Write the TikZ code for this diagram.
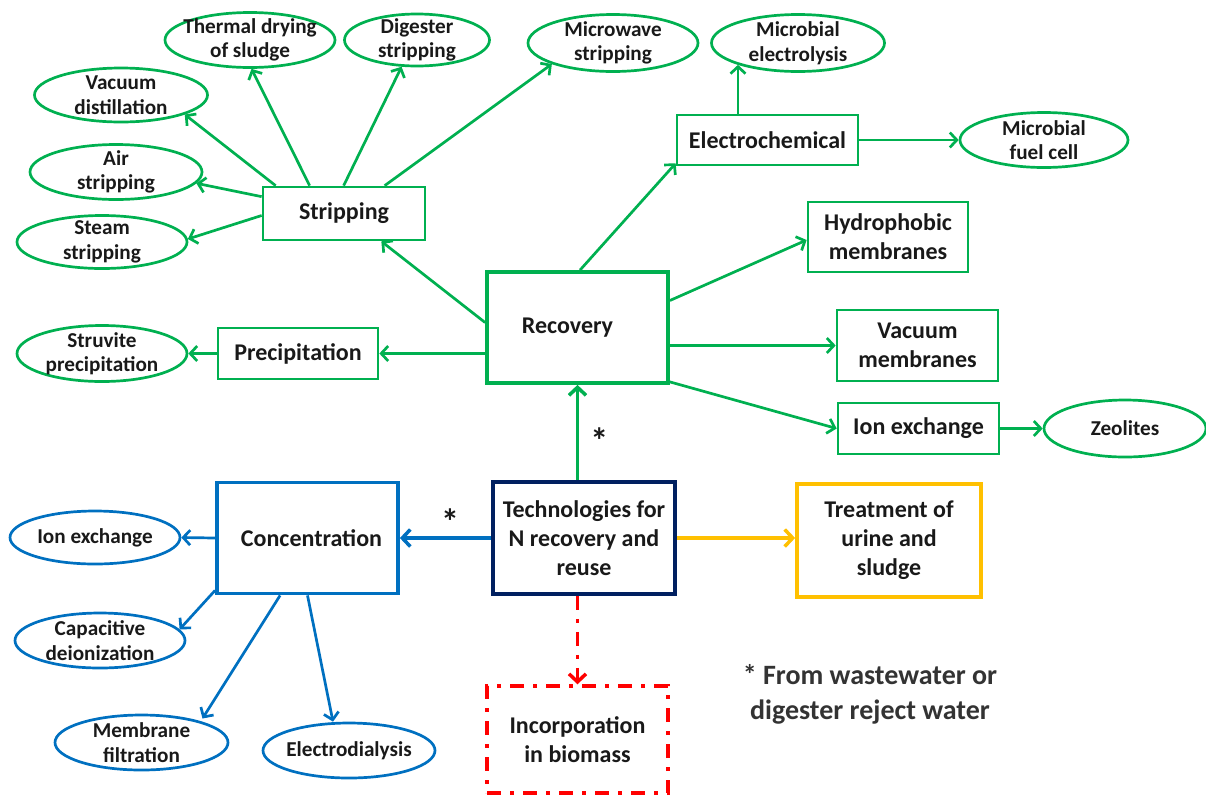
\documentclass[tikz,border=0pt]{standalone}
\usepackage{fontspec}
\setmainfont{Carlito}
\usetikzlibrary{arrows.meta,shapes.geometric}
\definecolor{cgreen}{RGB}{0,176,80}
\definecolor{cblue}{RGB}{0,112,192}
\definecolor{cnavy}{RGB}{0,32,96}
\definecolor{cyellow}{RGB}{255,192,0}
\definecolor{cred}{RGB}{255,0,0}
\definecolor{ctext}{RGB}{25,25,25}
\begin{document}
\begin{tikzpicture}[x=1pt,y=-1pt,
  every node/.style={align=center, inner sep=0pt},
  bx/.style={draw, rectangle, line width=2.7pt, text=ctext, font=\fontsize{24}{29}\selectfont\bfseries},
  thickbx/.style={bx, line width=3.8pt},
  el/.style={draw, ellipse, line width=2.7pt, inner sep=-16pt, text=ctext, font=\fontsize{21.2}{24.5}\selectfont\bfseries},
  arr/.style={-{Straight Barb[length=7pt,width=15pt]}, line width=2.7pt},
  thickarr/.style={-{Straight Barb[length=8pt,width=17pt]}, line width=3.5pt},
  gr/.style={draw=cgreen}, bl/.style={draw=cblue},
  star/.style={text=ctext, font=\fontsize{36}{36}\selectfont\bfseries}
]
\useasboundingbox (0,0) rectangle (1206,796);

% ---- green recovery group ----
\node[el,gr,minimum width=170pt,minimum height=55pt] (therm) at (250,40) {Thermal drying\\of sludge};
\node[el,gr,minimum width=145pt,minimum height=52pt] (dig) at (417,40) {Digester\\stripping};
\node[el,gr,minimum width=170pt,minimum height=57pt] (mw) at (613,43) {Microwave\\stripping};
\node[el,gr,minimum width=173pt,minimum height=57pt] (mel) at (798,43) {Microbial\\electrolysis};
\node[el,gr,minimum width=173pt,minimum height=54pt] (vac) at (121,95) {Vacuum\\distillation};
\node[el,gr,minimum width=172pt,minimum height=55pt] (air) at (116,172) {Air\\stripping};
\node[el,gr,minimum width=170pt,minimum height=53pt] (steam) at (102,242) {Steam\\stripping};
\node[bx,gr,minimum width=162pt,minimum height=53pt] (strip) at (344,213.5) {Stripping};
\node[bx,gr,minimum width=181pt,minimum height=50pt] (elec) at (767.5,140) {Electrochemical};
\node[el,gr,minimum width=168pt,minimum height=55pt] (mfc) at (1044,140) {Microbial\\fuel cell};
\node[bx,gr,minimum width=160pt,minimum height=70pt] (hyd) at (888,237) {Hydrophobic\\membranes};
\node[bx,gr,minimum width=161pt,minimum height=71pt] (vm) at (917.5,345.5) {Vacuum\\membranes};
\node[bx,gr,minimum width=161pt,minimum height=51pt] (ionx) at (918.5,428.5) {Ion exchange};
\node[el,gr,minimum width=162pt,minimum height=57pt] (zeo) at (1125,428.5) {Zeolites};
\node[thickbx,gr,minimum width=181pt,minimum height=111pt] (rec) at (577.5,327.5) {Recovery\hspace{20pt}};
\node[bx,gr,minimum width=160pt,minimum height=51pt] (prec) at (298,353.5) {Precipitation};
\node[el,gr,minimum width=170pt,minimum height=56pt] (struv) at (102,353.5) {Struvite\\precipitation};

% ---- centre and other groups ----
\node[thickbx,draw=cnavy,minimum width=182pt,minimum height=112pt] (tech) at (584,538) {Technologies for\\N recovery and\\reuse};
\node[thickbx,bl,minimum width=181pt,minimum height=111pt] (conc) at (307.5,538) {\hspace{8pt}Concentration};
\node[thickbx,draw=cyellow,minimum width=184pt,minimum height=113pt] (treat) at (889,540.5) {Treatment of\\urine and\\sludge};
\node[bx,draw=cred,line width=3.5pt,dash pattern=on 14pt off 9pt on 4pt off 9pt,minimum width=181pt,minimum height=107pt] (inc) at (577.5,739.5) {Incorporation\\in biomass};
\node[el,bl,minimum width=170pt,minimum height=53pt] (ionb) at (95,537.5) {Ion exchange};
\node[el,bl,minimum width=170pt,minimum height=55pt] (capac) at (100,640.5) {Capacitive\\deionization};
\node[el,bl,minimum width=173pt,minimum height=55pt] (memb) at (141.5,742.5) {Membrane\\filtration};
\node[el,bl,minimum width=172pt,minimum height=55pt] (edial) at (349,750.5) {Electrodialysis};
\node[font=\fontsize{28}{35}\selectfont\bfseries, text=black!80] (foot) at (870,694) {* From wastewater or\\digester reject water};

% ---- connectors: stripping ----
\draw[arr,cgreen] ([xshift=14pt]strip.north west) -- (vac.-17);
\draw[arr,cgreen] ([xshift=48pt]strip.north west) -- (therm.-87);
\draw[arr,cgreen] ([xshift=82pt]strip.north west) -- (dig.-120);
\draw[arr,cgreen] ([xshift=123pt]strip.north west) -- (mw.-161);
\draw[arr,cgreen] ([yshift=-11pt]strip.north west) -- (air.-8);
\draw[arr,cgreen] ([yshift=-2pt]strip.west) -- (steam.2);

% ---- connectors: recovery ----
\draw[arr,cgreen] ([yshift=5pt]rec.west) -- ([xshift=-45pt]strip.south east);
\draw[arr,cgreen] (prec.east -| rec.west) -- (prec.east);
\draw[arr,cgreen] (prec.west) -- (struv.east);
\draw[arr,cgreen] ([xshift=2.5pt]rec.north) -- ([yshift=3pt]elec.south west);
\draw[arr,cgreen] ([xshift=-29.5pt]elec.north) -- ([xshift=-29.5pt]elec.north |- mel.-160);
\draw[arr,cgreen] (elec.east) -- (mfc.west);
\draw[arr,cgreen] ([yshift=27pt]rec.east) -- ([yshift=-3pt]hyd.west);
\draw[arr,cgreen] (vm.west -| rec.east) -- (vm.west);
\draw[arr,cgreen] ([yshift=3pt]rec.south east) -- (ionx.west);
\draw[arr,cgreen] (ionx.east) -- (zeo.west);

% ---- connectors: technologies ----
\draw[thickarr,cgreen] (tech.north -| rec.south) -- node[star,right=11pt,pos=0.42]{*} (rec.south);
\draw[thickarr,cblue] (tech.west) -- node[star,above=2pt,pos=0.45]{*} (conc.east);
\draw[thickarr,cyellow] (tech.east) -- (treat.west |- tech.east);
\draw[thickarr,cred,dash pattern=on 14pt off 9pt on 4pt off 9pt] (tech.south -| inc.north) -- (inc.north);

% ---- connectors: concentration ----
\draw[arr,cblue] (conc.west) -- (ionb.east);
\draw[arr,cblue] ([yshift=5pt]conc.south west) -- (capac.8);
\draw[arr,cblue] ([xshift=65pt]conc.south west) -- ([xshift=61pt,yshift=24pt]memb.center);
\draw[arr,cblue] (conc.south) -- ([xshift=-16pt]edial.north);
\end{tikzpicture}
\end{document}
